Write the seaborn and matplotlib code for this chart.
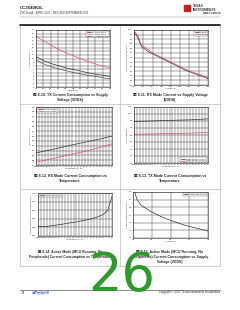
import matplotlib
matplotlib.use("Agg")
import matplotlib.pyplot as plt
import seaborn as sns
import pandas as pd
import numpy as np
from matplotlib.patches import Rectangle
from matplotlib.lines import Line2D

sns.set_style("white")
plt.rcParams['font.family'] = ['Liberation Sans', 'Noto Sans CJK SC', 'DejaVu Sans']

# ---------- data ----------
vdd1 = [1.8, 2.0, 2.2, 2.4, 2.6, 2.8, 3.0, 3.2, 3.4, 3.6, 3.8]
tx_5dbm = [16.2, 15.0, 13.8, 12.6, 11.6, 10.8, 10.0, 9.2, 8.5, 7.9, 7.3]
tx_0dbm = [10.6, 9.4, 8.6, 8.0, 7.4, 6.9, 6.5, 6.0, 5.6, 5.3, 5.0]
tx_m10dbm = [9.6, 8.5, 7.7, 7.1, 6.6, 6.1, 5.7, 5.3, 5.0, 4.6, 4.3]
tx_names = ["TX 0 dBm Setting", "TX 5 dBm Setting", "TX -10 dBm Setting"]

vdd2 = [1.8, 1.9, 2.0, 2.2, 2.4, 2.6, 2.8, 3.0, 3.2, 3.4, 3.6, 3.8]
rx_a = [9.8, 9.2, 8.2, 7.6, 7.2, 6.8, 6.4, 6.0, 5.6, 5.3, 5.0, 4.7]
rx_b = [9.9, 9.4, 8.4, 7.8, 7.3, 6.9, 6.5, 6.1, 5.7, 5.4, 5.1, 4.8]
rx_names = ["1 Mbps", "2 Mbps"]

temp = [-40, -25, -10, 0, 10, 25, 40, 55, 70, 85]
rxt_a = [5.95, 5.99, 6.03, 6.06, 6.09, 6.13, 6.17, 6.21, 6.25, 6.30]
rxt_b = [5.76, 5.80, 5.84, 5.87, 5.90, 5.94, 5.98, 6.03, 6.08, 6.14]
rxt_names = ["BLE 1M (Coded)", "BLE 2M (Coded)"]

txt_a = [8.9, 8.95, 9.0, 9.05, 9.1, 9.15, 9.2, 9.25, 9.35, 9.45]
txt_b = [6.15, 6.18, 6.22, 6.25, 6.28, 6.32, 6.36, 6.40, 6.46, 6.52]
txt_names = ["5 dBm Setting (2.4 GHz)", "0 dBm Setting (2.4 GHz)"]

temp5 = [-40, -25, -10, 0, 10, 25, 40, 50, 60, 70, 78, 85]
act_t = [2.905, 2.906, 2.913, 2.918, 2.924, 2.932, 2.942, 2.950, 2.960, 2.975, 3.00, 3.08]

vdd6 = [1.8, 1.85, 1.9, 2.0, 2.1, 2.3, 2.5, 2.8, 3.1, 3.3, 3.6, 3.8]
act_v = [3.40, 3.28, 3.12, 2.97, 2.90, 2.78, 2.68, 2.56, 2.46, 2.40, 2.33, 2.28]

captions = [
    "图 8-10. TX Current Consumption vs Supply\nVoltage (VDDS)",
    "图 8-11. RX Mode Current vs Supply Voltage\n(VDDS)",
    "图 8-12. RX Mode Current Consumption vs\nTemperature",
    "图 8-13. TX Mode Current Consumption vs\nTemperature",
    "图 8-14. Active Mode (MCU Running, No\nPeripherals) Current Consumption vs Temperature",
    "图 8-15. Active Mode (MCU Running, No\nPeripherals) Current Consumption vs Supply\nVoltage (VDDS)",
]

# ---------- figure ----------
W, H = 240, 310
fig = plt.figure(figsize=(2.4, 3.1), dpi=100)
fig.patch.set_facecolor("white")

def px_axes(x0, y0, x1, y1):
    return fig.add_axes([x0 / W, 1 - y1 / H, (x1 - x0) / W, (y1 - y0) / H])

TFS = 1.6
def style(ax, xlim, xticks, ylim, yticks, xlabel, ylabel):
    ax.set_xlim(*xlim)
    ax.set_ylim(*ylim)
    ax.set_xticks(xticks)
    ax.set_yticks(yticks)
    ax.tick_params(labelsize=TFS, length=0, pad=1)
    ax.grid(True, color="#444444", linewidth=0.35)
    for s in ax.spines.values():
        s.set_color("#222222")
        s.set_linewidth(0.4)
    ax.set_xlabel(xlabel, fontsize=TFS, labelpad=0.5)
    ax.set_ylabel(ylabel, fontsize=TFS, labelpad=0.5)
    ax.set_facecolor("white")

def draw(ax, x, ys, names, colors, loc):
    rows = []
    for y, n in zip(ys, names):
        rows += [{"x": a, "y": b, "s": n} for a, b in zip(x, y)]
    df = pd.DataFrame(rows)
    sns.lineplot(data=df, x="x", y="y", hue="s", palette=dict(zip(names, colors)),
                 ax=ax, linewidth=0.5, legend=False)
    handles = [Line2D([], [], color=c, lw=0.5) for c in colors]
    leg = ax.legend(handles, names, loc=loc, fontsize=1.4, frameon=True, fancybox=False,
                    borderpad=0.4, handlelength=2, labelspacing=0.2, edgecolor="#333333")
    leg.get_frame().set_linewidth(0.3)

RED = "#e0506a"

# Chart 1
ax1 = px_axes(36, 30, 110, 87)
draw(ax1, vdd1, [tx_0dbm, tx_5dbm, tx_m10dbm], tx_names, ["#333333", RED, "#555555"], "upper right")
style(ax1, (1.8, 3.8), vdd1, (2, 18), np.arange(2, 18.1, 1), "VDDS (V)", "TX Current (mA)")

# Chart 2
ax2 = px_axes(134, 30, 208, 85)
draw(ax2, vdd2, [rx_a, rx_b], rx_names, ["#333333", RED], "upper right")
style(ax2, (1.8, 3.8), np.arange(1.8, 3.81, 0.25), (4, 10), np.arange(4, 10.01, 0.5),
      "Voltage (V)", "Current Consumption (mA)")

# Chart 3
ax3 = px_axes(36, 107, 112, 165)
draw(ax3, temp, [rxt_a, rxt_b], rxt_names, ["#333333", RED], "upper left")
style(ax3, (-40, 85), np.arange(-40, 86, 5), (5.7, 6.9), np.arange(5.7, 6.91, 0.1),
      "Temperature (°C)", "RX Current (mA)")

# Chart 4
ax4 = px_axes(134, 107, 208, 163)
draw(ax4, temp, [txt_a, txt_b], txt_names, ["#333333", RED], "lower right")
style(ax4, (-40, 85), np.arange(-40, 86, 5), (0, 12), np.arange(0, 12.1, 1.5),
      "Temperature (°C)", "TX Current (mA)")

# Chart 5
ax5 = px_axes(38, 193, 112, 236)
draw(ax5, temp5, [act_t], ["Active Mode Current"], ["#333333"], "upper left")
style(ax5, (-40, 85), np.arange(-40, 86, 5), (2.85, 3.1), np.arange(2.85, 3.101, 0.05),
      "Temperature (°C)", "Active Mode Current Consumption (mA)")

# Chart 6
ax6 = px_axes(133, 192, 208, 238)
draw(ax6, vdd6, [act_v], ["Active Mode Current"], ["#333333"], "upper right")
style(ax6, (1.8, 3.8), [1.8, 2.3, 2.8, 3.3, 3.8], (2.1, 3.3), np.arange(2.1, 3.31, 0.2),
      "Voltage (V)", "Current Consumption (mA)")

# ---------- page decorations ----------
def fx(x): return x / W
def fy(y): return 1 - y / H

gray = "#bbbbbb"
fig.add_artist(Rectangle((fx(20), fy(266)), fx(200), (266 - 25) / H, fill=False,
                         edgecolor=gray, linewidth=0.5, transform=fig.transFigure))
for yy in (104, 189):
    fig.add_artist(Line2D([fx(20), fx(220)], [fy(yy), fy(yy)], color=gray, lw=0.5,
                          transform=fig.transFigure))
fig.add_artist(Line2D([fx(120), fx(120)], [fy(25), fy(266)], color=gray, lw=0.5,
                      transform=fig.transFigure))
fig.add_artist(Line2D([fx(20), fx(220)], [fy(25), fy(25)], color="#111111", lw=1.2,
                      transform=fig.transFigure))

# captions
cap_pos = [(70, 93), (170, 93), (70, 174), (170, 174), (70, 250), (170, 250)]
cap_fs = [2.6, 2.6, 2.6, 2.6, 2.4, 2.5]
for (cx, cy), t, fs in zip(cap_pos, captions, cap_fs):
    fig.text(fx(cx), fy(cy), t, ha="center", va="top", fontsize=fs, fontweight="bold",
             linespacing=1.3)

# header
fig.text(fx(20), fy(10), "CC2640R2L", fontsize=3.2, fontweight="bold", va="bottom")
fig.text(fx(20), fy(14.5), "ZHCSxxxA – APRIL 2021 – REVISED SEPTEMBER 2021", fontsize=1.9,
         va="bottom", color="#333333")
fig.text(fx(193), fy(8), "TEXAS\nINSTRUMENTS", fontsize=2.3, fontweight="bold", va="center",
         color="#333333", linespacing=1.0)
fig.add_artist(Rectangle((fx(184), fy(11)), fx(6), 6 / H, color="#cc1f1f",
                         transform=fig.transFigure))
fig.text(fx(220), fy(15), "www.ti.com.cn", fontsize=1.9, ha="right", va="bottom",
         fontweight="bold", color="#333333")
fig.add_artist(Line2D([fx(20), fx(220)], [fy(17), fy(17)], color="#888888", lw=0.3,
                      transform=fig.transFigure))

# footer
fig.add_artist(Line2D([fx(20), fx(220)], [fy(290), fy(290)], color="#777777", lw=0.6,
                      transform=fig.transFigure))
fig.text(fx(22), fy(294.5), "26", fontsize=2.2, va="bottom")
fig.text(fx(32), fy(294.5), "提交文档反馈", fontsize=2.2, va="bottom", color="#2b55c8")
fig.text(fx(220), fy(294.5), "Copyright © 2021 Texas Instruments Incorporated", fontsize=2.0,
         va="bottom", ha="right")

# big green page number overlay
fig.text(fx(122), fy(302), "26", fontsize=38, color="#2e9a2e", ha="center", va="bottom",
         fontfamily="DejaVu Sans")

fig.savefig("out.png", dpi=100, facecolor="white")
